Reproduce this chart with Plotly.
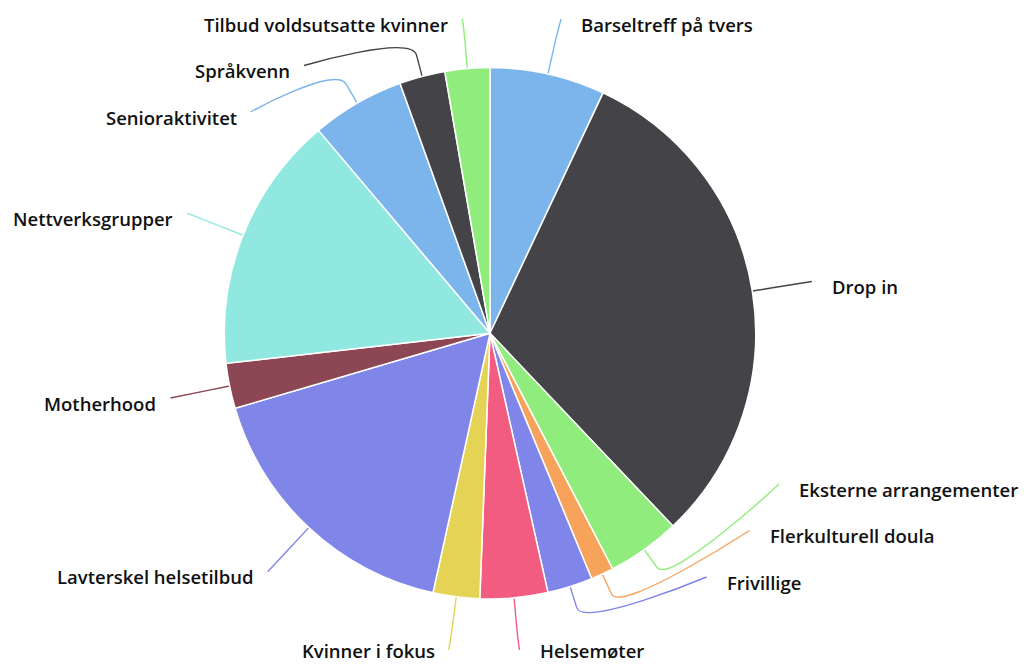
import math
import plotly.graph_objects as go

# ---------------- data ----------------
labels = [
    "Barseltreff på tvers", "Drop in", "Eksterne arrangementer", "Flerkulturell doula",
    "Frivillige", "Helsemøter", "Kvinner i fokus", "Lavterskel helsetilbud", "Motherhood",
    "Nettverksgrupper", "Senioraktivitet", "Språkvenn", "Tilbud voldsutsatte kvinner",
]
values = [25.2, 111.3, 16.0, 5.0, 9.9, 14.8, 10.2, 61.2, 9.9, 56.3, 20.4, 10.0, 9.8]
palette = ["#7cb5ec", "#434348", "#90ed7d", "#f7a35c", "#8085e9",
           "#f15c80", "#e4d354", "#8085e8", "#8d4653", "#91e8e1"]
colors = [palette[i % len(palette)] for i in range(len(labels))]

# ---------------- layout geometry ----------------
W, H = 1024, 664
CX, CY, RAD = 490.0, 333.3, 265.7      # pie centre / radius (px)
DIST = 60.3                            # data label distance
CONN_OFF = 22.0                        # connector break beyond the edge
PLOT_TOP, PLOT_BOTTOM = 19.0, 650.0
SLOT_H = 46.5
FONT = dict(family="Open Sans, DejaVu Sans, sans-serif", size=18.5, color="#111111", weight=600)

total = float(sum(values))
pts = []
cum = 0.0
for i, v in enumerate(values):
    mid = (cum + v / 2.0) / total * 2 * math.pi
    cum += v
    a = mid - math.pi / 2
    c, s = math.cos(a), math.sin(a)
    pts.append(dict(
        i=i, angle=a, half=1 if mid > math.pi else 0,
        lp=[CX + c * (RAD + DIST), CY + s * (RAD + DIST),
            CX + c * (RAD + CONN_OFF), CY + s * (RAD + CONN_OFF),
            CX + c * RAD, CY + s * RAD]))

cyp = CY - PLOT_TOP
ph = PLOT_BOTTOM - PLOT_TOP
R2 = RAD + DIST


def get_x(yp, half):
    q = max(min((yp - cyp) / R2, 1), -1)
    return CX + (-1 if half else 1) * math.cos(math.asin(q)) * R2


placed = {}
for half in (0, 1):
    group = [p for p in pts if p["half"] == half]
    group.sort(key=lambda p: p["angle"] if half == 0 else -p["angle"])
    slots = []
    pos = max(0.0, cyp - R2)
    bottom = min(cyp + R2, ph)
    while pos <= bottom:
        slots.append(pos)
        pos += SLOT_H
    n, L = len(slots), len(group)
    used = []
    for j, p in enumerate(group):
        nat = p["lp"][1] - PLOT_TOP
        closest, si = 9999, 0
        for k in range(n):
            sv = slots[k] if slots[k] is not None else 0
            d = abs(sv - nat)
            if d < closest:
                closest, si = d, k
        if si < j and slots[j] is not None:
            si = j
        elif n < L - j + si and slots[j] is not None:
            si = n - L + j
            while slots[si] is None:
                si += 1
        else:
            while slots[si] is None:
                si += 1
        used.append((si, slots[si]))
        slots[si] = None
    used.sort(key=lambda t: -t[1])
    for j, p in enumerate(group):
        nat = p["lp"][1] - PLOT_TOP
        si, y = used.pop()
        nxt_free = si + 1 >= n or slots[si + 1] is not None
        prv_free = si - 1 < 0 or slots[si - 1] is not None
        if (nat > y and nxt_free) or (nat < y and prv_free):
            y = min(max(0.0, nat), ph)
        x = get_x(nat if (si == 0 or si == n - 1) else y, half)
        placed[p["i"]] = (x, y + PLOT_TOP)

# ---------------- figure ----------------
fig = go.Figure()
fig.add_trace(go.Pie(
    labels=labels, values=values, sort=False, direction="clockwise", rotation=0,
    marker=dict(colors=colors, line=dict(color="#ffffff", width=1.5)),
    textinfo="none", hoverinfo="label+value", showlegend=False,
    domain=dict(x=[(CX - RAD) / W, (CX + RAD) / W],
                y=[(H - CY - RAD) / H, (H - CY + RAD) / H]),
))
# invisible helper trace to establish pixel axes
fig.add_trace(go.Scatter(x=[0, W], y=[0, H], mode="markers",
                         marker=dict(opacity=0), hoverinfo="skip", showlegend=False))

shapes, annotations = [], []
for p in pts:
    i = p["i"]
    x, y = placed[i]
    lp = p["lp"]
    path = (f"M {x:.2f},{y:.2f} C {x:.2f},{y:.2f} "
            f"{2*lp[2]-lp[4]:.2f},{2*lp[3]-lp[5]:.2f} {lp[2]:.2f},{lp[3]:.2f} "
            f"L {lp[4]:.2f},{lp[5]:.2f}")
    shapes.append(dict(type="path", path=path, xref="x", yref="y",
                       line=dict(color=colors[i], width=1.4), layer="below"))
    right = p["half"] == 0
    annotations.append(dict(
        x=x + (19 if right else -13), y=min(y + 5, H - 14), xref="x", yref="y",
        text=labels[i], showarrow=False, xanchor="left" if right else "right",
        yanchor="middle", font=FONT, borderpad=0))

fig.update_layout(
    width=W, height=H, margin=dict(l=0, r=0, t=0, b=0),
    paper_bgcolor="#ffffff", plot_bgcolor="rgba(0,0,0,0)",
    xaxis=dict(range=[0, W], visible=False, fixedrange=True, domain=[0, 1]),
    yaxis=dict(range=[H, 0], visible=False, fixedrange=True, domain=[0, 1]),
    shapes=shapes, annotations=annotations, showlegend=False,
)
fig.write_html("out.html", config={"displayModeBar": False},
               post_script="document.body.style.margin='0';document.body.style.overflow='hidden';")
